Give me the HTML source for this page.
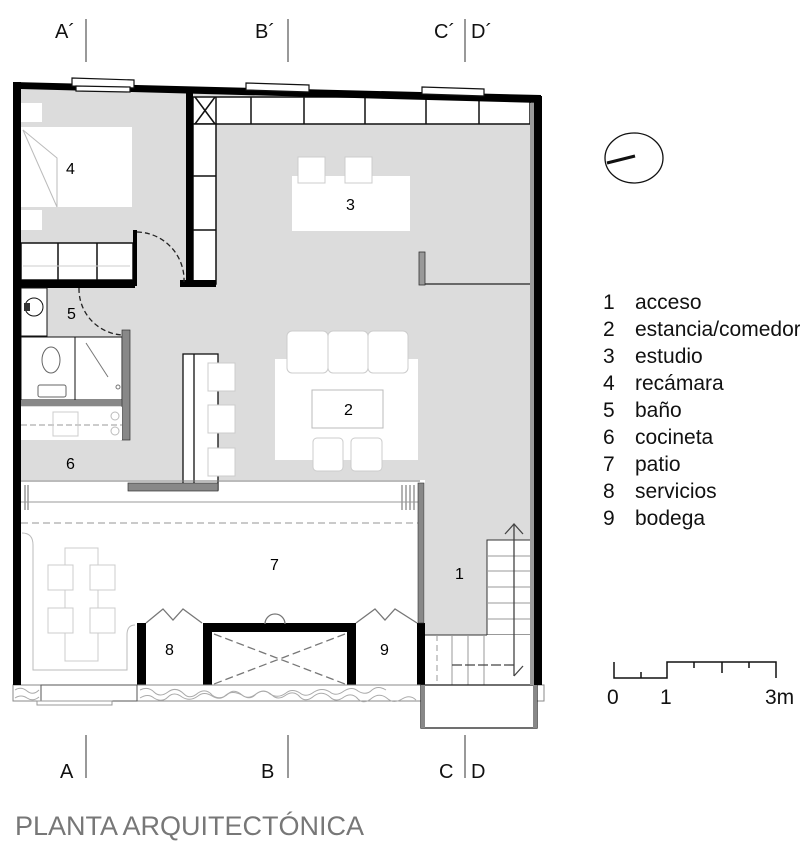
<!DOCTYPE html>
<html><head><meta charset="utf-8"><style>
html,body{margin:0;padding:0;background:#fff;}
svg{display:block;font-family:"Liberation Sans",Arial,sans-serif;}
</style></head><body>
<svg width="800" height="855" viewBox="0 0 800 855" xmlns="http://www.w3.org/2000/svg">
<g font-size="20" fill="#111">
<text x="55" y="38">A´</text><text x="255" y="38">B´</text><text x="434" y="38">C´</text><text x="471" y="38">D´</text>
<text x="60" y="778">A</text><text x="261" y="778">B</text><text x="439" y="778">C</text><text x="471" y="778">D</text>
</g>
<g stroke="#777" stroke-width="1.5">
<line x1="86" y1="19" x2="86" y2="62"/><line x1="288" y1="19" x2="288" y2="62"/><line x1="465" y1="19" x2="465" y2="62"/>
<line x1="86" y1="735" x2="86" y2="778"/><line x1="288" y1="735" x2="288" y2="778"/><line x1="465" y1="735" x2="465" y2="778"/>
</g>

<polygon points="20,88 533,100 533,685 425,685 425,480 20,480" fill="#dcdcdc"/>
<rect x="20" y="480" width="400" height="205" fill="#fff"/>
<rect x="487" y="540" width="45" height="95" fill="#fff" stroke="#333" stroke-width="1"/>
<rect x="425" y="635" width="107" height="50" fill="#fff"/>
<line x1="425" y1="635" x2="487" y2="635" stroke="#333"/>
<g stroke="#999" stroke-width="1">
<line x1="487" y1="556" x2="532" y2="556"/><line x1="487" y1="571" x2="532" y2="571"/><line x1="487" y1="587" x2="532" y2="587"/>
<line x1="487" y1="603" x2="532" y2="603"/><line x1="487" y1="619" x2="532" y2="619"/>
<line x1="452" y1="635" x2="452" y2="685"/><line x1="468" y1="635" x2="468" y2="685"/><line x1="484" y1="635" x2="484" y2="685"/>
<line x1="437" y1="635" x2="437" y2="685" stroke-dasharray="6,4"/>
</g>
<g stroke="#444" stroke-width="1.3" fill="none">
<line x1="514" y1="524" x2="514" y2="676"/><polyline points="505,534 514,524 523,534"/>
<line x1="452" y1="665" x2="514" y2="665" stroke-dasharray="10,3"/><polyline points="514,676 523,666"/>
</g>

<rect x="193" y="97" width="337" height="27" fill="#fff" stroke="#111" stroke-width="1.5"/>
<g stroke="#111" stroke-width="1.5">
<line x1="216" y1="97" x2="216" y2="124"/><line x1="251" y1="97" x2="251" y2="124"/><line x1="304" y1="97" x2="304" y2="124"/>
<line x1="365" y1="97" x2="365" y2="124"/><line x1="426" y1="97" x2="426" y2="124"/><line x1="479" y1="97" x2="479" y2="124"/>
<line x1="195" y1="97" x2="215" y2="124"/><line x1="215" y1="97" x2="195" y2="124"/>
</g>
<rect x="193" y="124" width="23" height="160" fill="#fff" stroke="#111" stroke-width="1.5"/>
<line x1="193" y1="176" x2="216" y2="176" stroke="#111" stroke-width="1.5"/>
<line x1="193" y1="230" x2="216" y2="230" stroke="#111" stroke-width="1.5"/>
<rect x="186" y="90" width="7" height="197" fill="#000"/>
<rect x="180" y="280" width="36" height="7" fill="#000"/>

<rect x="21" y="127" width="111" height="80" fill="#fff"/>
<polyline points="23,130 57,158 57,207" fill="none" stroke="#bbb"/>
<line x1="23" y1="130" x2="57" y2="207" stroke="#bbb"/>
<rect x="21" y="103" width="21" height="19" fill="#fff"/>
<rect x="21" y="210" width="21" height="20" fill="#fff"/>
<text x="66" y="174" font-size="16">4</text>
<rect x="21" y="243" width="112" height="37" fill="#fff" stroke="#111" stroke-width="1.5"/>
<line x1="58" y1="243" x2="58" y2="280" stroke="#111" stroke-width="1.5"/>
<line x1="97" y1="243" x2="97" y2="280" stroke="#111" stroke-width="1.5"/>
<line x1="23" y1="266" x2="130" y2="266" stroke="#ccc"/>
<rect x="13" y="280" width="122" height="8" fill="#000"/>
<rect x="133" y="230" width="4" height="56" fill="#000"/>
<path d="M137,232 A48,48 0 0 1 184,282" fill="none" stroke="#222" stroke-dasharray="5,3" stroke-width="1.3"/>

<rect x="21" y="288" width="26" height="48" fill="#fff" stroke="#111"/>
<circle cx="34" cy="307" r="9" fill="#fff" stroke="#111"/>
<rect x="24" y="303" width="6" height="8" fill="#333"/>
<text x="67" y="319" font-size="16">5</text>
<path d="M79,288 A46,46 0 0 0 122,335" fill="none" stroke="#222" stroke-dasharray="5,3" stroke-width="1.3"/>
<rect x="21" y="337" width="54" height="63" fill="#fff" stroke="#111"/>
<rect x="75" y="337" width="47" height="63" fill="#fff" stroke="#111"/>
<ellipse cx="51" cy="360" rx="9" ry="13" fill="#fff" stroke="#666"/>
<rect x="38" y="385" width="28" height="12" rx="2" fill="#fff" stroke="#666"/>
<line x1="86" y1="343" x2="108" y2="377" stroke="#777"/>
<circle cx="118" cy="387" r="2" fill="none" stroke="#777"/>
<rect x="21" y="400" width="107" height="6" fill="#888"/>
<rect x="122" y="330" width="8" height="110" fill="#888" stroke="#333" stroke-width="0.7"/>
<rect x="21" y="407" width="101" height="33" fill="#fff"/>
<line x1="21" y1="425" x2="122" y2="425" stroke="#999" stroke-dasharray="6,3"/>
<rect x="53" y="412" width="25" height="24" fill="none" stroke="#ccc"/>
<circle cx="115" cy="416" r="4" fill="none" stroke="#bbb"/><circle cx="115" cy="431" r="4" fill="none" stroke="#bbb"/>
<text x="66" y="469" font-size="16">6</text>

<rect x="292" y="176" width="118" height="55" fill="#fff"/>
<rect x="298" y="157" width="27" height="26" fill="#fff" stroke="#ccc"/>
<rect x="345" y="157" width="27" height="26" fill="#fff" stroke="#ccc"/>
<text x="346" y="210" font-size="16">3</text>
<rect x="419" y="252" width="6" height="33" fill="#999" stroke="#333" stroke-width="0.8"/>
<line x1="425" y1="284" x2="531" y2="284" stroke="#222" stroke-width="1.3"/>

<rect x="275" y="359" width="143" height="101" fill="#fff"/>
<g fill="#fff" stroke="#ccc">
<rect x="287" y="331" width="41" height="42" rx="5"/><rect x="328" y="331" width="40" height="42" rx="5"/><rect x="368" y="331" width="40" height="42" rx="5"/>
<rect x="312" y="390" width="71" height="38" stroke="#bbb"/>
<rect x="313" y="438" width="30" height="33" rx="4"/><rect x="351" y="438" width="31" height="33" rx="4"/>
</g>
<text x="344" y="415" font-size="16">2</text>
<rect x="183" y="354" width="35" height="136" fill="#fff" stroke="#111" stroke-width="1.3"/>
<line x1="194" y1="354" x2="194" y2="490" stroke="#111" stroke-width="1.3"/>
<g fill="#fff" stroke="#ccc">
<rect x="208" y="363" width="27" height="28"/><rect x="208" y="405" width="27" height="28"/><rect x="208" y="448" width="27" height="28"/>
</g>
<rect x="128" y="483" width="90" height="8" fill="#888" stroke="#333" stroke-width="0.7"/>

<line x1="21" y1="481" x2="420" y2="481" stroke="#777"/>
<line x1="21" y1="502" x2="420" y2="502" stroke="#999"/>
<line x1="21" y1="523" x2="420" y2="523" stroke="#aaa" stroke-dasharray="7,4" stroke-width="1.3"/>
<g stroke="#999" stroke-width="1.5">
<line x1="402" y1="485" x2="402" y2="510"/><line x1="406" y1="485" x2="406" y2="510"/><line x1="410" y1="485" x2="410" y2="510"/><line x1="414" y1="485" x2="414" y2="510"/>
<line x1="25" y1="485" x2="25" y2="510"/><line x1="28" y1="485" x2="28" y2="510"/>
</g>
<path d="M22,533 Q33,533 33,545 L33,670 L127,670 L127,635 Q127,625 135,625" fill="none" stroke="#bbb"/>
<rect x="65" y="548" width="33" height="113" fill="none" stroke="#ccc"/>
<g fill="#fff" stroke="#ccc"><rect x="48" y="565" width="25" height="25"/><rect x="90" y="565" width="25" height="25"/><rect x="48" y="608" width="25" height="25"/><rect x="90" y="608" width="25" height="25"/></g>
<text x="270" y="570" font-size="16">7</text>
<rect x="137" y="623" width="9" height="63" fill="#000"/>
<rect x="203" y="623" width="9" height="63" fill="#000"/>
<rect x="203" y="623" width="151" height="9" fill="#000"/>
<rect x="347" y="623" width="9" height="63" fill="#000"/>
<rect x="417" y="623" width="8" height="63" fill="#000"/>
<rect x="418" y="483" width="6" height="140" fill="#888" stroke="#333" stroke-width="0.6"/>
<g stroke="#777" stroke-width="1.3" fill="none">
<polyline points="146,623 163,609 173,620 183,609 202,623"/>
<polyline points="356,623 375,609 385,620 395,609 417,623"/>
<path d="M265,624 A10,10 0 0 1 285,624"/>
<line x1="214" y1="634" x2="345" y2="684" stroke-dasharray="8,4"/><line x1="345" y1="634" x2="214" y2="684" stroke-dasharray="8,4"/>
</g>
<text x="165" y="655" font-size="16">8</text><text x="380" y="655" font-size="16">9</text>
<text x="455" y="579" font-size="16">1</text>

<g fill="#fff" stroke="#888" stroke-width="1">
<rect x="13" y="685" width="28" height="16"/>
<rect x="137" y="685" width="288" height="16"/>
<rect x="536" y="685" width="8" height="16"/>
</g>
<g fill="none" stroke="#aaa" stroke-width="1">
<path d="M140,690 q8,-4 14,2 q6,6 14,0 q8,-6 16,2 q6,6 14,-1 q8,-5 14,2 q8,6 16,-1 q6,-6 14,1 q8,6 14,-1 q8,-6 16,1 q6,6 14,0 q8,-5 14,2 q6,6 14,-1 q8,-6 16,1 q6,6 14,0 q8,-5 14,2 q6,6 14,-1 q8,-6 16,1 q6,5 14,0 q8,-5 14,1"/>
<path d="M140,698 q8,-5 14,0 q8,5 14,-1 q6,-6 14,0 q8,5 16,-1 q6,-5 14,0 q8,5 14,-1 q6,-5 16,0 q6,5 14,-1 q8,-6 14,0 q8,5 16,-1 q6,-5 14,0 q6,5 14,-1 q8,-5 16,0 q6,5 14,-1 q8,-5 14,0 q8,5 14,-1 q6,-5 14,0"/>
<path d="M15,690 q6,-4 12,1 q6,5 12,-1 M15,698 q6,-4 12,0 q6,4 12,-1"/>
</g>
<rect x="41" y="685" width="96" height="16" fill="#fff" stroke="#555"/>
<rect x="37" y="701" width="75" height="4" fill="#fff" stroke="#999"/>
<rect x="421" y="685" width="116" height="43" fill="#fff" stroke="#222" stroke-width="1.3"/>
<rect x="421" y="685" width="4" height="43" fill="#888"/>
<rect x="533" y="685" width="4" height="43" fill="#888"/>

<polygon points="13,82 541,95 541,103 20,89" fill="#000"/>
<rect x="13" y="82" width="8" height="603" fill="#000"/>
<rect x="534" y="96" width="8" height="589" fill="#000"/>
<rect x="530" y="103" width="4" height="582" fill="#999"/>
<g fill="#fff" stroke="#111" stroke-width="1.2">
<polygon points="72,78 134,80 134,88 72,86"/><polygon points="76,86 130,87 130,92 76,91"/>
<polygon points="246,83 309,85 309,92 246,90"/>
<polygon points="422,87 484,89 484,96 422,94"/>
</g>

<ellipse cx="634" cy="158" rx="29" ry="25" fill="none" stroke="#111" stroke-width="1.3"/>
<line x1="607" y1="163" x2="635" y2="156" stroke="#111" stroke-width="3"/>

<g font-size="21" fill="#111">
<text x="603" y="309">1</text><text x="635" y="309">acceso</text>
<text x="603" y="336">2</text><text x="635" y="336">estancia/comedor</text>
<text x="603" y="363">3</text><text x="635" y="363">estudio</text>
<text x="603" y="390">4</text><text x="635" y="390">recámara</text>
<text x="603" y="417">5</text><text x="635" y="417">baño</text>
<text x="603" y="444">6</text><text x="635" y="444">cocineta</text>
<text x="603" y="471">7</text><text x="635" y="471">patio</text>
<text x="603" y="498">8</text><text x="635" y="498">servicios</text>
<text x="603" y="525">9</text><text x="635" y="525">bodega</text>
</g>
<g stroke="#111" stroke-width="1.5" fill="none">
<polyline points="614,662 614,678 667,678 667,662 776,662 776,678"/>
<line x1="641" y1="672" x2="641" y2="678"/>
<line x1="694" y1="662" x2="694" y2="668"/><line x1="722" y1="662" x2="722" y2="673"/><line x1="749" y1="662" x2="749" y2="668"/>
</g>
<g font-size="21" fill="#111"><text x="607" y="704">0</text><text x="660" y="704">1</text><text x="765" y="704">3m</text></g>

<text x="15" y="835" font-size="27" fill="#777">PLANTA ARQUITECTÓNICA</text>
</svg>
</body></html>
